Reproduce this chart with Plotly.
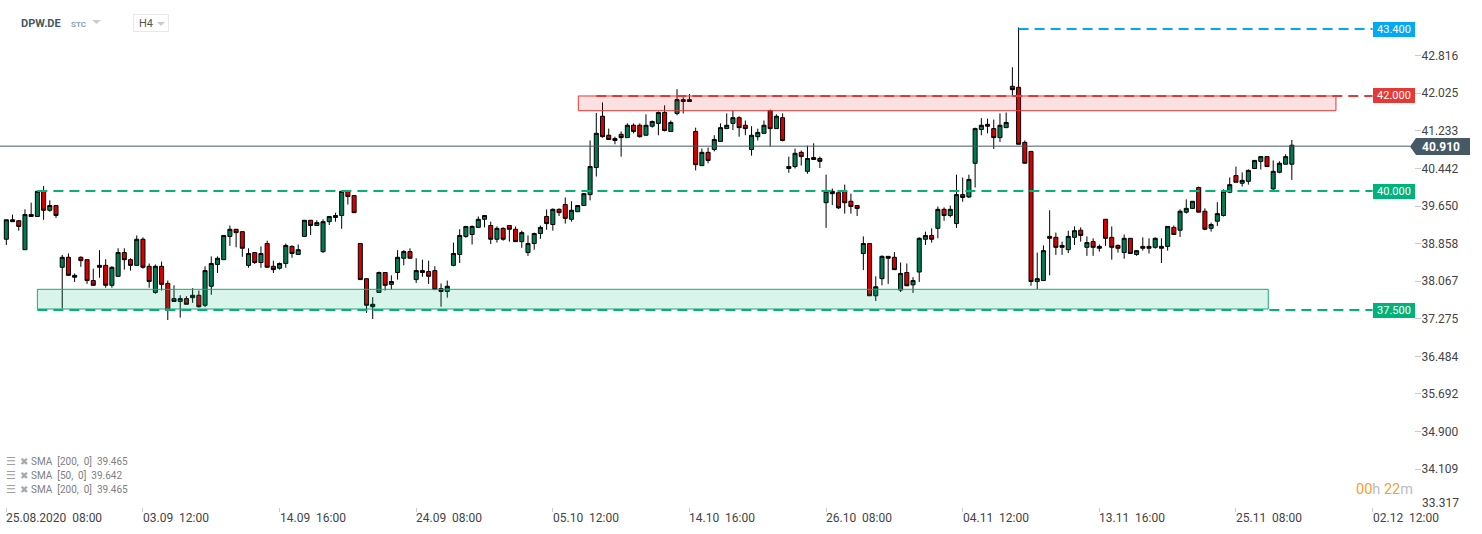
import plotly.graph_objects as go

W, H = 1482, 534
PLOT_W, PLOT_H = 1414, 507

sides = ("GRRGRGRGRG" "RRRRRRRGGR" "RGRRGRRRGR" "GRGGGGGRRG" "RGRRGGRGGR"
         "GGGGGRRRRG" "GRGGGRGRRR" "RGGGGGGGRG" "RRRGGGGRGR" "RGGGGGRRRR"
         "GRRGGGRGGR" "GRGRGGGGRR" "GGGRGRGGRG" "RRGRRRRRGR" "GGRRGRGGGR"
         "GRGGRGGGRR" "GGRRRRGGRR" "RGGRGRRRRR" "GRGRRGGGRG" "GGRRGGGGRG"
         "GGGRGGGG")
highs = [39.36,39.47,39.35,39.58,39.72,39.97,40.07,39.77,39.66,38.62,
38.65,38.23,38.59,38.52,38.33,38.72,38.53,38.38,38.76,38.76,
38.55,39.03,38.99,38.44,38.42,38.48,38.08,37.98,37.77,37.75,
37.92,37.87,38.38,38.59,38.59,39.03,39.24,39.16,39.11,38.76,
38.67,38.80,38.92,38.50,38.46,38.86,38.82,38.84,39.35,39.35,
39.35,39.37,39.43,39.51,39.96,39.97,39.88,38.86,38.12,37.73,
38.27,38.25,38.19,38.72,38.72,38.76,38.55,38.52,38.50,38.38,
38.02,38.08,38.88,39.16,39.22,39.24,39.43,39.45,39.32,39.22,
39.20,39.24,39.22,39.13,39.03,39.09,39.24,39.58,39.60,39.60,
39.83,39.75,39.66,39.91,41.03,41.61,41.83,41.28,41.11,41.22,
41.39,41.39,41.39,41.58,41.45,41.64,41.77,41.45,42.11,41.94,
42.01,41.30,40.86,40.88,41.14,41.39,41.60,41.66,41.54,41.45,
41.33,41.28,41.45,41.68,41.58,41.60,40.69,40.86,40.82,40.92,
40.97,40.69,40.31,40.02,39.93,40.10,39.91,39.66,39.01,38.86,
38.17,38.61,38.59,38.68,38.46,38.44,38.15,38.99,39.11,39.18,
39.64,39.62,39.66,40.31,40.25,40.31,41.30,41.50,41.49,41.47,
41.60,41.62,42.57,43.41,41.03,40.80,38.67,38.82,39.56,39.09,
38.90,39.13,39.22,39.20,39.01,38.97,38.84,39.37,39.22,38.84,
39.05,38.97,38.71,38.99,38.97,38.99,38.97,39.22,39.24,39.58,
39.79,39.75,40.06,39.60,39.30,39.73,40.00,40.25,40.48,40.36,
40.42,40.61,40.69,40.69,40.61,40.59,40.74,41.04]
body_tops = [39.36,39.36,39.34,39.47,39.47,39.96,39.96,39.66,39.66,38.57,
38.57,38.19,38.57,38.52,38.08,38.40,38.40,38.36,38.67,38.67,
38.52,38.95,38.95,38.38,38.38,38.38,38.02,37.70,37.70,37.70,
37.77,37.77,38.29,38.44,38.55,39.03,39.16,39.16,39.11,38.65,
38.67,38.65,38.86,38.38,38.44,38.82,38.80,38.73,39.35,39.35,
39.30,39.32,39.43,39.45,39.96,39.96,39.87,38.86,38.12,37.58,
38.25,38.25,38.06,38.57,38.69,38.69,38.29,38.29,38.27,38.29,
37.91,37.96,38.65,39.03,39.22,39.22,39.37,39.45,39.24,39.18,
39.18,39.24,39.16,39.09,38.86,39.07,39.20,39.43,39.58,39.58,
39.68,39.56,39.66,39.91,40.48,41.18,41.54,41.14,41.07,41.16,
41.35,41.35,41.35,41.35,41.43,41.62,41.62,41.41,41.89,41.89,
41.89,41.22,40.78,40.78,41.05,41.30,41.35,41.51,41.51,41.35,
41.14,41.20,41.35,41.66,41.54,41.51,40.48,40.76,40.78,40.65,
40.67,40.65,39.96,39.96,39.93,39.96,39.75,39.66,38.86,38.86,
37.95,38.59,38.59,38.57,38.23,38.25,38.08,38.97,39.03,39.03,
39.58,39.58,39.58,39.89,39.89,40.21,41.28,41.35,41.37,41.28,
41.35,41.41,42.17,42.15,40.99,40.80,38.12,38.71,39.01,38.99,
38.82,39.01,39.13,39.14,38.88,38.90,38.80,39.37,38.99,38.82,
38.97,38.97,38.71,38.80,38.80,38.97,38.80,39.22,39.20,39.54,
39.60,39.75,40.04,39.54,39.26,39.49,39.96,40.10,40.29,40.19,
40.40,40.61,40.69,40.69,40.38,40.55,40.69,40.93]
body_bottoms = [38.95,39.32,39.22,38.73,39.43,39.43,39.56,39.56,39.45,38.36,
38.19,38.15,38.50,38.08,37.98,38.36,37.98,37.98,38.17,38.52,
38.40,38.40,38.36,38.06,37.83,38.00,37.45,37.64,37.64,37.58,
37.72,37.53,37.56,37.96,38.42,38.52,39.01,39.09,38.76,38.40,
38.46,38.46,38.36,38.31,38.34,38.44,38.65,38.63,39.01,39.24,
39.24,38.69,39.32,39.41,39.45,39.85,39.51,38.10,37.56,37.53,
37.83,37.98,38.00,38.25,38.55,38.55,38.10,38.25,38.17,37.89,
37.85,37.85,38.40,38.63,39.01,39.05,39.20,39.37,38.95,38.95,
38.95,39.16,38.90,38.90,38.67,38.86,39.07,39.28,39.26,39.51,
39.39,39.37,39.53,39.66,39.89,40.46,41.11,41.05,41.03,41.09,
41.09,41.22,41.11,41.14,41.33,41.39,41.24,41.22,41.60,41.85,
41.85,40.52,40.50,40.61,40.84,41.01,41.28,41.39,41.30,41.28,
40.84,41.11,41.18,41.28,41.28,41.03,40.44,40.48,40.69,40.38,
40.63,40.59,39.72,39.91,39.61,39.72,39.64,39.60,38.65,37.76,
37.76,38.12,38.55,38.31,37.88,37.97,37.99,38.26,38.95,38.95,
39.18,39.45,39.45,39.28,39.83,39.84,40.55,41.26,41.33,41.09,
41.09,41.30,42.10,40.95,40.55,38.06,38.06,38.08,38.97,38.78,
38.78,38.73,38.99,39.03,38.78,38.78,38.76,38.97,38.78,38.76,
38.67,38.65,38.63,38.76,38.76,38.78,38.76,38.80,39.05,39.14,
39.52,39.60,39.52,39.16,39.18,39.33,39.45,39.94,40.15,40.13,
40.17,40.44,40.59,40.48,40.01,40.36,40.53,40.53]
lows = [38.83,39.32,39.13,38.73,39.43,39.43,39.36,39.53,39.40,37.49,
38.19,38.05,38.37,38.01,37.98,38.14,37.93,37.93,38.17,38.31,
38.29,38.40,38.33,37.93,37.80,37.87,37.25,37.64,37.30,37.58,
37.61,37.51,37.52,37.78,38.24,38.52,38.81,38.78,38.58,38.35,
38.43,38.35,38.36,38.24,38.31,38.35,38.56,38.63,39.01,39.04,
39.24,38.66,39.25,39.32,39.17,39.68,39.51,38.10,37.40,37.27,
37.83,37.87,37.89,38.10,38.40,38.55,38.03,38.16,38.01,37.89,
37.53,37.72,38.38,38.45,38.98,38.84,39.20,39.20,38.85,38.88,
38.92,38.90,38.90,38.77,38.60,38.73,38.96,39.15,39.13,39.44,
39.28,39.32,39.53,39.66,39.77,40.27,41.09,41.05,40.95,40.69,
41.09,41.18,41.09,41.14,41.30,41.14,41.22,41.22,41.56,41.60,
41.85,40.40,40.50,40.55,40.80,41.01,41.28,41.25,41.11,41.14,
40.71,41.03,41.18,40.91,41.28,41.01,40.35,40.44,40.50,40.33,
40.63,40.45,39.19,39.67,39.59,39.49,39.49,39.44,38.30,37.76,
37.65,37.98,38.01,38.31,37.84,37.97,37.82,38.05,38.83,38.88,
38.97,39.34,39.41,39.19,39.74,39.82,40.04,41.14,41.18,40.85,
41.00,41.30,41.98,40.95,40.55,37.97,37.90,38.08,38.19,38.62,
38.62,38.66,38.83,38.90,38.60,38.60,38.69,38.81,38.52,38.67,
38.54,38.65,38.60,38.71,38.65,38.75,38.45,38.71,39.05,39.00,
39.49,39.60,39.52,39.14,39.11,39.23,39.43,39.92,40.15,40.06,
40.10,40.44,40.42,40.48,39.99,40.34,40.53,40.20]

y_tick_vals = [42.816, 42.025, 41.233, 40.442, 39.650, 38.858, 38.067, 37.275, 36.484, 35.692, 34.900, 34.109]
y_tick_text = [f"{v:.3f}" for v in y_tick_vals]
x_tick_vals = [0, 22, 44, 66, 88, 110, 132, 154, 176, 198, 220]
x_tick_text = ["25.08.2020  08:00", "03.09  12:00", "14.09  16:00", "24.09  08:00", "05.10  12:00",
               "14.10  16:00", "26.10  08:00", "04.11  12:00", "13.11  16:00", "25.11  08:00", "02.12  12:00"]

last_price = 40.910
level_labels = ["43.400", "42.000", "40.000", "37.500"]
level_y = [43.377, 41.967, 39.966, 37.460]
level_start = [163, 95, 5, 5]
level_colors = ["#03a9f4", "#e53935", "#00b37a", "#00b37a"]
sma_lines = ["SMA  [200,  0]  39.465", "SMA  [50,  0]  39.642", "SMA  [200,  0]  39.465"]

GREEN, RED = "#007a52", "#d50000"
opens = [b if s == "G" else t for s, t, b in zip(sides, body_tops, body_bottoms)]
closes = [t if s == "G" else b for s, t, b in zip(sides, body_tops, body_bottoms)]
xs = list(range(len(highs)))

def px(x): return x / PLOT_W
def py(y): return (PLOT_H - y) / PLOT_H
FONT = "Roboto, sans-serif"

fig = go.Figure(go.Candlestick(
    x=xs, open=opens, high=highs, low=lows, close=closes,
    increasing=dict(line=dict(color="#000000", width=1), fillcolor=GREEN),
    decreasing=dict(line=dict(color="#000000", width=1), fillcolor=RED),
    whiskerwidth=0, hoverinfo="skip", showlegend=False))

shapes = [
    dict(type="rect", xref="x", yref="y", x0=5, x1=203.2, y0=37.481, y1=37.896,
         fillcolor="rgba(0,179,122,0.15)", line=dict(color="#1aa87a", width=1)),
    dict(type="rect", xref="x", yref="y", x0=92.1, x1=214.1, y0=41.657, y1=41.967,
         fillcolor="rgba(229,57,53,0.15)", line=dict(color="#e53935", width=1)),
    dict(type="line", xref="paper", yref="y", x0=0, x1=px(1410), y0=last_price, y1=last_price,
         line=dict(color="#455a64", width=1)),
    dict(type="path", xref="paper", yref="paper",
         path=f"M {px(1410)},{py(146.5)} L {px(1416)},{py(138)} L {px(1470)},{py(138)} "
              f"L {px(1470)},{py(155)} L {px(1416)},{py(155)} Z",
         fillcolor="#455a64", line=dict(width=0)),
    dict(type="rect", xref="paper", yref="paper", x0=px(133.5), x1=px(168.5), y0=py(14.5), y1=py(31.5),
         fillcolor="rgba(0,0,0,0)", line=dict(color="#e6e8ea", width=1)),
    dict(type="path", xref="paper", yref="paper",
         path=f"M {px(92)},{py(20)} L {px(101)},{py(20)} L {px(96.5)},{py(24)} Z",
         fillcolor="#c9cdd0", line=dict(width=0)),
    dict(type="path", xref="paper", yref="paper",
         path=f"M {px(157)},{py(22)} L {px(165)},{py(22)} L {px(161)},{py(26)} Z",
         fillcolor="#c9cdd0", line=dict(width=0)),
]
for y, st, c in zip(level_y, level_start, level_colors):
    shapes.append(dict(type="line", xref="x", yref="y", x0=st, x1=220, y0=y, y1=y,
                       line=dict(color=c, width=2, dash="10px,6px")))

ann = []
def text(x, y, s, size=12, color="#444", anchor="left", **kw):
    ann.append(dict(xref="paper", yref="paper", x=px(x), y=py(y), text=s, showarrow=False,
                    xanchor=anchor, yanchor="middle", font=dict(family=kw.pop("family", FONT), size=size, color=color),
                    borderpad=0, **kw))

for y, lab, c in zip(level_y, level_labels, level_colors):
    ann.append(dict(xref="x", yref="y", x=220, y=y, text=lab, showarrow=False, xanchor="left",
                    yanchor="middle", width=42, height=15, bgcolor=c, borderpad=0, borderwidth=0, align="center",
                    font=dict(family=FONT, size=11, color="#ffffff")))
for v, t in zip(x_tick_vals, x_tick_text):
    ann.append(dict(xref="x", yref="paper", x=v, y=py(517.5), text=t.replace(" ", "\u00a0"), showarrow=False,
                    xanchor="left", yanchor="middle", borderpad=0, xshift=-1,
                    font=dict(family=FONT, size=12, color="#444")))
text(1421, 502.5, "33.317")
text(1441, 146.5, f"<b>{last_price:.3f}</b>", color="#ffffff", anchor="center")
text(19.5, 23, "<b>DPW.DE</b>", size=11, color="#455a64")
text(70, 24, "<b>STC</b>", size=8, color="#8fa3ad")
text(138, 23.5, "H4", size=11, color="#555")
for i, s in enumerate(sma_lines):
    y = 461.5 + i * 14
    text(30, y, s.replace(" ", "\u00a0"), size=10, color="#808080")
    text(5, y - 0.5, "☰", size=11, color="#a0a0a0", family="DejaVu Sans")
    text(18.5, y - 0.5, "✖", size=10, color="#a8a8a8", family="DejaVu Sans")
O = "#f9a028"; G2 = "#b8bec2"
text(1355, 489, f'<span style="color:{O}">00</span><span style="color:{G2}">h</span> '
                f'<span style="color:{O}">22</span><span style="color:{G2}">m</span>', size=14.5)

fig.update_layout(
    width=W, height=H, autosize=False,
    margin=dict(l=0, r=W - PLOT_W, t=0, b=H - PLOT_H, pad=0),
    paper_bgcolor="#ffffff", plot_bgcolor="#ffffff",
    boxgap=0.35, boxgroupgap=0,
    shapes=shapes, annotations=ann, showlegend=False, dragmode=False,
    xaxis=dict(range=[-1.019, 226.67], tickmode="array", tickvals=x_tick_vals, ticktext=[""] * len(x_tick_vals),
               ticks="outside", ticklen=4, tickcolor="#c8ccd0", tickwidth=1,
               showgrid=False, zeroline=False, showline=False, rangeslider=dict(visible=False)),
    yaxis=dict(range=[33.312, 43.988], side="right", tickmode="array", tickvals=y_tick_vals, ticktext=y_tick_text,
               ticks="outside", ticklen=6, tickcolor="#c8ccd0", tickwidth=1, ticklabelstandoff=-2,
               showgrid=False, zeroline=False, showline=False,
               tickfont=dict(family=FONT, size=12, color="#444")),
)
fig.write_html("out.html", config=dict(displayModeBar=False),
               post_script="document.documentElement.style.margin='0';document.body.style.margin='0';document.body.style.overflow='hidden';")
